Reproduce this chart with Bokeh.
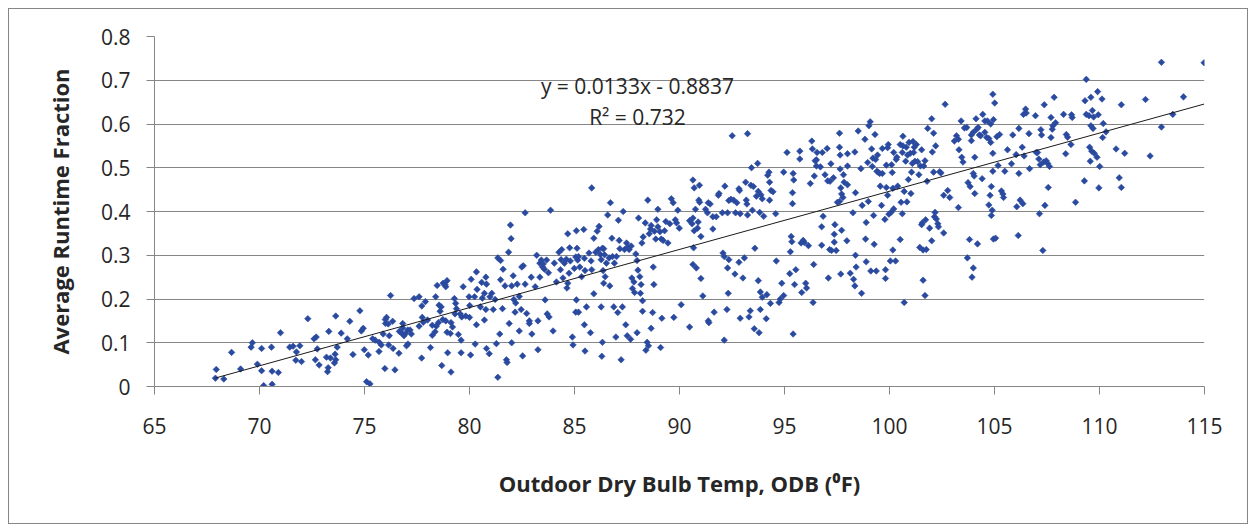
from bokeh.plotting import figure
from bokeh.models import (FixedTicker, CustomJSTickFormatter, Label,
                          ColumnDataSource)
from bokeh.embed import file_html
from bokeh.resources import INLINE

# Outdoor dry bulb temperature (F) and average runtime fraction, by temperature band
odb_68_71 = [67.94, 67.90, 68.30, 68.67, 69.10, 69.66, 69.60, 70.10, 70.57, 71.00,
             69.90, 70.10, 70.60, 70.90, 70.20, 70.60]
rtf_68_71 = [0.039, 0.019, 0.017, 0.078, 0.040, 0.100, 0.090, 0.087, 0.090, 0.123,
             0.051, 0.036, 0.035, 0.032, 0.002, 0.005]

odb_71_77 = [71.44, 71.60, 71.92, 71.76, 71.73, 72.00, 72.30, 72.60, 72.70, 72.75,
             72.66, 72.84, 73.19, 73.38, 73.27, 73.24, 73.30, 73.60, 73.63, 73.57,
             73.70, 73.63, 73.89, 74.18, 74.30, 74.45, 74.78, 74.85, 74.94, 74.99,
             75.18, 75.10, 75.26, 75.39, 75.51, 75.69, 75.70, 75.80, 75.97, 76.45,
             75.89, 76.00, 76.05, 75.99, 76.13, 76.24, 76.34, 76.18, 76.15, 76.36,
             76.64, 76.66, 76.82, 76.82, 76.88, 76.95, 77.06, 77.17, 77.23, 77.07,
             77.36, 77.00, 76.75]
rtf_71_77 = [0.090, 0.092, 0.093, 0.079, 0.060, 0.057, 0.155, 0.109, 0.113, 0.086,
             0.061, 0.049, 0.067, 0.065, 0.043, 0.034, 0.126, 0.074, 0.061, 0.054,
             0.090, 0.161, 0.122, 0.109, 0.149, 0.073, 0.173, 0.127, 0.133, 0.084,
             0.072, 0.011, 0.006, 0.109, 0.106, 0.080, 0.101, 0.095, 0.041, 0.038,
             0.120, 0.144, 0.158, 0.153, 0.143, 0.208, 0.149, 0.116, 0.095, 0.087,
             0.076, 0.126, 0.144, 0.134, 0.116, 0.121, 0.129, 0.129, 0.120, 0.097,
             0.201, 0.093, 0.123]

odb_77_84 = [77.60, 77.73, 77.90, 77.75, 77.80, 77.60, 78.00, 78.23, 78.42, 78.52,
             78.36, 78.23, 78.39, 78.46, 78.55, 78.65, 78.60, 78.74, 78.84, 78.93,
             78.87, 78.73, 78.87, 78.93, 79.09, 79.12, 79.19, 79.28, 79.34, 79.38,
             79.31, 79.47, 79.60, 78.14, 77.72, 78.68, 78.96, 79.12, 79.60, 79.70,
             79.98, 80.01, 79.82, 79.63, 79.56, 80.00, 80.08, 80.24, 80.27, 80.33,
             80.36, 80.33, 80.05, 80.52, 80.58, 80.61, 80.71, 80.78, 80.81, 80.78,
             80.71, 80.81, 80.94, 80.97, 81.06, 81.13, 81.22, 81.28, 81.35, 81.44,
             81.48, 81.48, 81.35, 81.57, 81.60, 81.69, 81.76, 81.79, 81.86, 81.89,
             81.95, 81.98, 82.01, 82.01, 82.08, 82.11, 82.20, 82.17, 82.27, 82.37,
             82.37, 82.46, 82.49, 82.56, 82.65, 82.65, 82.72, 82.53, 82.85, 82.85,
             82.94, 82.97, 83.13, 83.20, 83.26, 83.26, 83.35, 83.35, 83.42, 83.48,
             83.51, 83.57, 83.60, 83.67, 83.70, 83.76, 83.79, 83.86, 83.98]
rtf_77_84 = [0.205, 0.184, 0.194, 0.158, 0.147, 0.138, 0.152, 0.140, 0.138, 0.146,
             0.125, 0.117, 0.205, 0.231, 0.186, 0.182, 0.172, 0.236, 0.232, 0.242,
             0.228, 0.153, 0.150, 0.124, 0.121, 0.146, 0.136, 0.201, 0.190, 0.178,
             0.166, 0.119, 0.106, 0.089, 0.065, 0.048, 0.077, 0.033, 0.077, 0.228,
             0.205, 0.185, 0.161, 0.159, 0.166, 0.158, 0.245, 0.205, 0.097, 0.262,
             0.222, 0.141, 0.072, 0.182, 0.238, 0.202, 0.213, 0.250, 0.234, 0.176,
             0.152, 0.087, 0.075, 0.205, 0.213, 0.176, 0.199, 0.098, 0.294, 0.120,
             0.288, 0.244, 0.021, 0.178, 0.268, 0.230, 0.061, 0.055, 0.307, 0.144,
             0.369, 0.338, 0.100, 0.230, 0.253, 0.199, 0.191, 0.170, 0.234, 0.206,
             0.127, 0.176, 0.273, 0.276, 0.397, 0.234, 0.167, 0.070, 0.150, 0.144,
             0.250, 0.120, 0.228, 0.300, 0.084, 0.150, 0.250, 0.282, 0.289, 0.273,
             0.280, 0.268, 0.198, 0.289, 0.166, 0.260, 0.159, 0.403, 0.127]

odb_84_90 = [84.04, 84.14, 84.26, 84.36, 84.33, 84.45, 84.39, 84.52, 84.61, 84.68,
             84.64, 84.68, 84.77, 84.80, 84.74, 84.90, 84.93, 84.99, 85.06, 85.12,
             85.09, 85.15, 85.19, 85.09, 85.19, 85.06, 85.25, 85.34, 85.44, 85.47,
             85.50, 85.47, 85.50, 85.57, 85.69, 85.76, 85.79, 85.82, 85.82, 85.92,
             85.92, 86.01, 86.08, 86.14, 86.17, 86.23, 86.27, 86.30, 86.27, 86.33,
             86.36, 86.39, 86.39, 86.33, 86.43, 86.46, 86.52, 86.58, 86.65, 86.68,
             86.71, 86.78, 86.81, 86.87, 86.90, 86.97, 87.00, 87.06, 87.09, 87.13,
             87.16, 87.22, 87.28, 87.32, 87.38, 87.44, 87.48, 87.51, 87.54, 87.60,
             87.67, 87.70, 87.73, 87.76, 87.83, 87.86, 87.92, 87.98, 87.98, 88.02,
             88.05, 88.11, 88.14, 88.17, 88.21, 88.24, 88.24, 88.27, 88.37, 88.40,
             88.46, 88.49, 88.52, 88.56, 88.62, 88.65, 88.65, 88.72, 88.75, 88.78,
             88.81, 88.87, 88.91, 88.97, 88.97, 89.07, 89.10, 89.13, 89.16, 89.22,
             89.29, 89.35, 89.45, 89.54, 89.61, 89.70, 89.73, 89.80, 89.86, 89.92,
             89.99, 90.08]
rtf_84_90 = [0.282, 0.239, 0.307, 0.290, 0.267, 0.248, 0.313, 0.282, 0.291, 0.236,
             0.225, 0.349, 0.317, 0.287, 0.259, 0.113, 0.095, 0.270, 0.296, 0.316,
             0.356, 0.289, 0.297, 0.198, 0.170, 0.170, 0.273, 0.251, 0.359, 0.293,
             0.265, 0.141, 0.081, 0.182, 0.305, 0.123, 0.287, 0.454, 0.267, 0.339,
             0.212, 0.307, 0.355, 0.313, 0.366, 0.302, 0.182, 0.069, 0.290, 0.316,
             0.265, 0.315, 0.236, 0.101, 0.301, 0.251, 0.282, 0.392, 0.294, 0.230,
             0.420, 0.339, 0.297, 0.182, 0.282, 0.113, 0.297, 0.169, 0.380, 0.334,
             0.315, 0.061, 0.182, 0.400, 0.313, 0.141, 0.328, 0.116, 0.319, 0.313,
             0.108, 0.321, 0.248, 0.224, 0.239, 0.215, 0.303, 0.123, 0.288, 0.266,
             0.385, 0.251, 0.213, 0.233, 0.328, 0.172, 0.196, 0.342, 0.374, 0.083,
             0.101, 0.426, 0.093, 0.349, 0.360, 0.368, 0.133, 0.169, 0.273, 0.233,
             0.355, 0.337, 0.381, 0.365, 0.405, 0.354, 0.089, 0.337, 0.156, 0.334,
             0.356, 0.377, 0.328, 0.372, 0.429, 0.420, 0.158, 0.381, 0.374, 0.403,
             0.362, 0.187]

odb_90_97 = [90.48, 90.48, 90.64, 90.70, 90.76, 90.64, 90.60, 90.70, 90.89, 90.86,
             90.95, 90.92, 91.02, 90.67, 90.64, 90.80, 91.02, 91.11, 90.96, 91.24,
             91.37, 91.46, 91.33, 91.59, 91.75, 91.59, 91.65, 91.37, 91.40, 91.85,
             91.88, 92.04, 92.07, 92.13, 92.16, 92.13, 92.26, 92.29, 92.29, 92.32,
             92.35, 92.35, 92.45, 92.51, 92.58, 92.64, 92.67, 92.73, 92.83, 92.83,
             92.89, 92.86, 92.89, 93.02, 93.09, 93.15, 93.18, 93.21, 93.24, 93.24,
             93.31, 93.37, 93.40, 93.43, 93.47, 93.52, 93.56, 93.59, 93.66, 93.72,
             93.75, 93.75, 93.79, 93.82, 93.85, 93.85, 93.88, 93.94, 93.94, 94.01,
             94.13, 94.16, 94.20, 94.26, 94.29, 94.29, 94.33, 94.36, 94.45, 94.58,
             94.61, 94.74, 94.80, 94.87, 94.96, 94.96, 95.12, 95.25, 95.28, 95.32,
             95.35, 95.38, 95.38, 95.41, 95.41, 95.44, 95.48, 95.54, 95.73, 95.73,
             95.79, 95.82, 95.89, 95.95, 96.01, 96.05, 96.14, 96.23, 96.30, 96.33,
             96.36, 96.39, 96.42, 96.46, 96.52, 96.52, 96.55, 96.71, 96.77, 96.77,
             96.80, 96.84, 96.93, 97.03, 97.06, 97.09, 97.15]
rtf_90_97 = [0.379, 0.136, 0.472, 0.454, 0.405, 0.385, 0.372, 0.356, 0.376, 0.362,
             0.460, 0.426, 0.343, 0.317, 0.279, 0.271, 0.247, 0.207, 0.421, 0.405,
             0.420, 0.417, 0.397, 0.388, 0.388, 0.360, 0.170, 0.150, 0.146, 0.437,
             0.441, 0.397, 0.305, 0.297, 0.458, 0.106, 0.176, 0.397, 0.271, 0.213,
             0.290, 0.425, 0.428, 0.573, 0.426, 0.257, 0.397, 0.420, 0.452, 0.284,
             0.395, 0.448, 0.156, 0.248, 0.294, 0.467, 0.426, 0.417, 0.392, 0.578,
             0.159, 0.173, 0.460, 0.500, 0.403, 0.457, 0.132, 0.316, 0.435, 0.510,
             0.242, 0.446, 0.123, 0.398, 0.176, 0.216, 0.438, 0.429, 0.204, 0.389,
             0.155, 0.210, 0.483, 0.490, 0.467, 0.426, 0.190, 0.448, 0.445, 0.395,
             0.287, 0.192, 0.200, 0.236, 0.208, 0.490, 0.535, 0.258, 0.308, 0.343,
             0.331, 0.443, 0.418, 0.120, 0.487, 0.472, 0.233, 0.267, 0.538, 0.520,
             0.328, 0.215, 0.334, 0.329, 0.236, 0.225, 0.322, 0.464, 0.561, 0.543,
             0.192, 0.279, 0.481, 0.516, 0.518, 0.504, 0.535, 0.502, 0.365, 0.323,
             0.535, 0.389, 0.484, 0.544, 0.470, 0.248, 0.313]

odb_97_104 = [97.21, 97.17, 97.33, 97.62, 97.62, 97.65, 97.65, 97.68, 97.81, 97.84,
              97.72, 97.62, 97.52, 97.78, 98.00, 98.00, 98.00, 98.35, 98.38, 97.40,
              97.37, 97.37, 97.24, 97.46, 97.72, 97.97, 97.68, 98.13, 98.26, 98.29,
              98.35, 98.38, 98.41, 98.51, 98.64, 98.67, 98.70, 98.83, 98.86, 98.89,
              98.89, 98.96, 98.99, 99.02, 99.08, 99.11, 99.15, 99.18, 99.21, 99.24,
              99.27, 99.31, 99.34, 99.37, 99.40, 99.43, 99.46, 99.53, 99.56, 99.62,
              99.66, 99.66, 99.78, 99.81, 99.81, 99.85, 99.85, 99.91, 99.94, 99.91,
              99.97, 100.04, 100.07, 100.10, 100.13, 100.16, 100.16, 100.20, 100.20, 100.29,
              100.32, 100.35, 100.39, 100.51, 100.51, 100.55, 100.61, 100.61, 100.64, 100.64,
              100.70, 100.70, 100.77, 100.80, 100.83, 100.86, 100.90, 100.93, 100.99, 101.02,
              101.05, 101.09, 101.12, 101.15, 101.18, 101.21, 101.28, 101.34, 101.40, 101.44,
              101.47, 101.53, 101.53, 101.56, 101.60, 101.60, 101.63, 101.69, 101.69, 101.72,
              101.75, 101.79, 101.82, 101.91, 102.01, 102.01, 102.04, 102.10, 102.10, 102.14,
              102.17, 102.20, 102.23, 102.30, 102.33, 102.39, 102.45, 102.58, 102.58, 102.65,
              102.77, 102.87, 103.09, 103.19, 103.28, 103.31, 103.28, 103.41, 103.44, 103.50,
              103.57]
rtf_97_104 = [0.509, 0.469, 0.477, 0.579, 0.547, 0.529, 0.497, 0.454, 0.484, 0.467,
              0.440, 0.423, 0.421, 0.432, 0.532, 0.504, 0.461, 0.536, 0.443, 0.370,
              0.348, 0.330, 0.311, 0.311, 0.357, 0.333, 0.257, 0.259, 0.397, 0.245,
              0.230, 0.300, 0.273, 0.584, 0.498, 0.213, 0.414, 0.565, 0.337, 0.375,
              0.285, 0.512, 0.423, 0.596, 0.605, 0.264, 0.543, 0.503, 0.522, 0.391,
              0.325, 0.576, 0.519, 0.264, 0.492, 0.529, 0.490, 0.487, 0.458, 0.414,
              0.487, 0.544, 0.382, 0.267, 0.247, 0.455, 0.506, 0.546, 0.553, 0.437,
              0.394, 0.287, 0.398, 0.507, 0.489, 0.453, 0.312, 0.406, 0.535, 0.287,
              0.519, 0.524, 0.458, 0.553, 0.336, 0.421, 0.395, 0.535, 0.572, 0.550,
              0.192, 0.446, 0.515, 0.547, 0.422, 0.529, 0.473, 0.558, 0.533, 0.441,
              0.490, 0.510, 0.560, 0.535, 0.547, 0.515, 0.553, 0.514, 0.484, 0.318,
              0.504, 0.370, 0.541, 0.374, 0.243, 0.312, 0.504, 0.516, 0.208, 0.381,
              0.313, 0.469, 0.590, 0.362, 0.612, 0.333, 0.536, 0.579, 0.490, 0.388,
              0.398, 0.550, 0.383, 0.372, 0.365, 0.491, 0.488, 0.351, 0.437, 0.645,
              0.448, 0.432, 0.561, 0.573, 0.565, 0.541, 0.409, 0.607, 0.524, 0.513,
              0.591]

odb_104_110 = [103.68, 103.74, 103.81, 103.71, 103.84, 103.90, 103.90, 103.99, 103.99, 104.03,
               103.99, 103.93, 104.06, 104.06, 104.12, 104.15, 104.19, 104.22, 104.28, 104.34,
               104.41, 104.44, 104.54, 104.54, 104.63, 104.66, 104.73, 104.73, 104.79, 104.82,
               104.82, 104.85, 104.85, 104.89, 104.92, 104.95, 104.95, 105.01, 104.92, 104.92,
               105.05, 105.11, 105.17, 105.24, 105.33, 105.40, 105.43, 105.49, 105.62, 105.81,
               105.87, 106.03, 106.06, 106.13, 106.16, 106.16, 106.22, 106.32, 106.35, 106.38,
               106.41, 106.48, 106.51, 106.64, 106.67, 106.95, 106.99, 107.05, 107.11, 107.14,
               107.18, 107.21, 107.24, 107.30, 107.34, 107.37, 107.40, 107.46, 107.53, 107.56,
               107.62, 107.69, 107.69, 107.75, 107.78, 107.84, 107.91, 108.29, 108.39, 108.42,
               108.48, 108.64, 108.67, 108.70, 108.86, 109.28, 109.31, 109.37, 109.37, 109.50,
               109.53, 109.56, 109.59, 109.59, 109.63, 109.66, 109.69, 109.72, 109.75, 109.88,
               109.91, 109.94, 109.97, 110.01]
rtf_104_110 = [0.592, 0.466, 0.336, 0.294, 0.457, 0.562, 0.575, 0.581, 0.487, 0.481,
               0.271, 0.250, 0.441, 0.524, 0.612, 0.588, 0.326, 0.592, 0.575, 0.573,
               0.475, 0.622, 0.607, 0.581, 0.569, 0.607, 0.415, 0.567, 0.437, 0.558,
               0.600, 0.457, 0.391, 0.403, 0.668, 0.610, 0.337, 0.648, 0.533, 0.492,
               0.339, 0.571, 0.505, 0.576, 0.447, 0.440, 0.432, 0.492, 0.541, 0.509,
               0.575, 0.530, 0.411, 0.345, 0.487, 0.590, 0.426, 0.547, 0.418, 0.622,
               0.527, 0.634, 0.625, 0.578, 0.498, 0.619, 0.535, 0.535, 0.520, 0.395,
               0.507, 0.587, 0.575, 0.311, 0.513, 0.644, 0.414, 0.516, 0.510, 0.455,
               0.503, 0.615, 0.569, 0.588, 0.596, 0.661, 0.603, 0.622, 0.532, 0.576,
               0.570, 0.553, 0.621, 0.615, 0.421, 0.470, 0.653, 0.702, 0.622, 0.619,
               0.547, 0.515, 0.661, 0.596, 0.538, 0.631, 0.590, 0.616, 0.533, 0.524,
               0.674, 0.621, 0.454, 0.503]

odb_110_115 = [110.12, 110.18, 110.15, 110.31, 110.79, 111.20, 110.94, 111.04, 111.04, 112.19,
               112.41, 112.95, 112.95, 113.49, 114.00, 114.98]
rtf_110_115 = [0.657, 0.601, 0.569, 0.582, 0.543, 0.533, 0.477, 0.455, 0.644, 0.656,
               0.527, 0.741, 0.593, 0.622, 0.662, 0.740]

# Linear fit shown on the chart
slope = 0.0133
intercept = -0.8837
r_squared = 0.732

x_ticks = [65, 70, 75, 80, 85, 90, 95, 100, 105, 110, 115]
y_ticks = [0, 0.1, 0.2, 0.3, 0.4, 0.5, 0.6, 0.7, 0.8]

odb = (odb_68_71 + odb_71_77 + odb_77_84 + odb_84_90 + odb_90_97
       + odb_97_104 + odb_104_110 + odb_110_115)
rtf = (rtf_68_71 + rtf_71_77 + rtf_77_84 + rtf_84_90 + rtf_90_97
       + rtf_97_104 + rtf_104_110 + rtf_110_115)

FONT = "Open Sans"
GRID = "#868686"
TEXT = "#262626"

# The chart sits inside a thin grey border, inset from the page edge
p = figure(width=1238, height=514, output_backend="svg", toolbar_location=None,
           x_range=(65, 115), y_range=(0, 0.8),
           min_border_left=145, min_border_right=45,
           min_border_top=27, min_border_bottom=139,
           margin=(8, 8, 0, 8),
           styles={"border": "1px solid #868686", "box-sizing": "content-box"})
p.outline_line_color = None
p.background_fill_color = "white"
p.border_fill_color = "white"

# Axes
p.xaxis.ticker = FixedTicker(ticks=x_ticks)
p.yaxis.ticker = FixedTicker(ticks=y_ticks)
p.xaxis.formatter = CustomJSTickFormatter(code="return tick.toFixed(0);")
p.yaxis.formatter = CustomJSTickFormatter(
    code="const s = tick.toFixed(1); return s === '0.0' ? '0' : s;")
for ax in (p.xaxis[0], p.yaxis[0]):
    ax.axis_line_color = GRID
    ax.axis_line_width = 1
    ax.major_tick_line_color = GRID
    ax.major_tick_in = 0
    ax.major_tick_out = 8
    ax.minor_tick_line_color = None
    ax.major_label_text_font = FONT
    ax.major_label_text_font_size = "21px"
    ax.major_label_text_color = TEXT
    ax.axis_label_text_font = FONT
    ax.axis_label_text_font_size = "22px"
    ax.axis_label_text_font_style = "bold"
    ax.axis_label_text_color = TEXT

p.xaxis.axis_label = "Outdoor Dry Bulb Temp, ODB (\u2070F)"
p.yaxis.axis_label = "Average Runtime Fraction"
p.yaxis.major_label_standoff = 16
p.xaxis.major_label_standoff = 23
p.yaxis.axis_label_standoff = 23
p.xaxis.axis_label_standoff = 31

p.xgrid.visible = False
p.ygrid.grid_line_color = GRID
p.ygrid.grid_line_width = 1

# Scatter of measured points
src = ColumnDataSource(dict(x=odb, y=rtf))
p.scatter("x", "y", source=src, marker="square", angle=0.7854, size=4.6,
          fill_color="#2A4AA0", line_color="#2A4AA0", line_width=0.6)

# Trend line over the data range
x0, x1 = min(odb), max(odb)
p.line([x0, x1], [slope * x0 + intercept, slope * x1 + intercept],
       line_color="#1a1a1a", line_width=1)

# Fit equation
p.add_layout(Label(x=88.0, y=0.687, text=f"y = {slope}x - {abs(intercept)}",
                   text_align="center", text_baseline="middle",
                   text_font=FONT, text_font_size="21px", text_color=TEXT))
p.add_layout(Label(x=88.0, y=0.616, text=f"R\u00b2 = {r_squared}",
                   text_align="center", text_baseline="middle",
                   text_font=FONT, text_font_size="21px", text_color=TEXT))

open("out.html", "w").write(file_html(p, INLINE))
